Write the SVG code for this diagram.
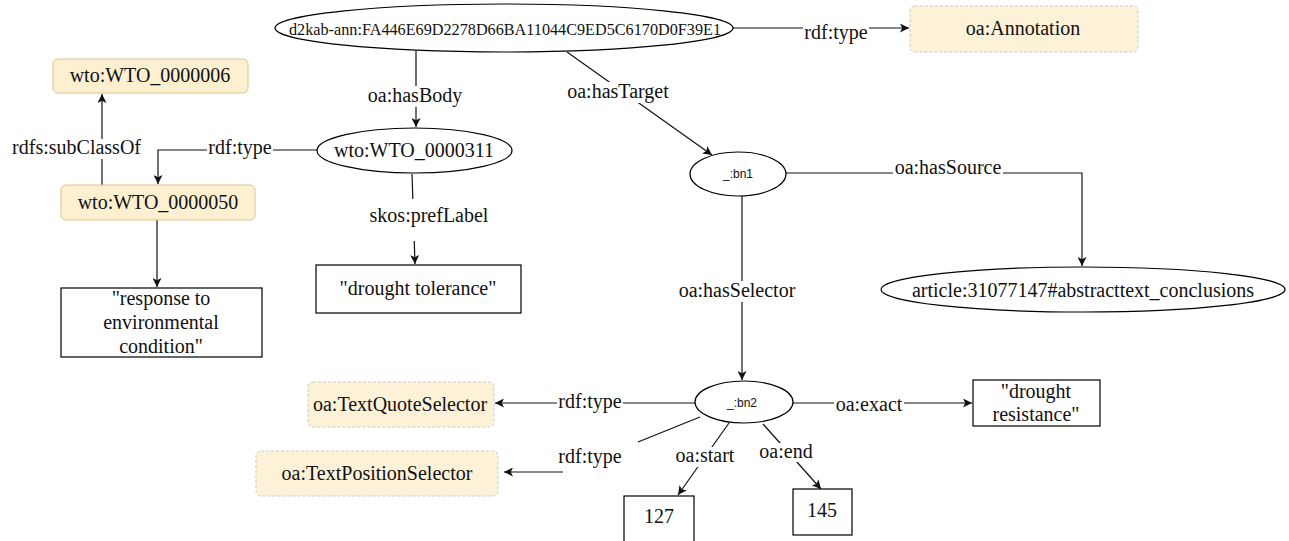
<svg xmlns="http://www.w3.org/2000/svg" width="1289" height="541" viewBox="0 0 1289 541">
<style>
  .bg { fill: #ffffff; }
  .ell { fill: #ffffff; stroke: #000000; stroke-width: 1.2; }
  .lit { fill: #ffffff; stroke: #000000; stroke-width: 1.2; }
  .cls { fill: #fdf0d0; stroke: #dcc48c; stroke-width: 1; }
  .oa { fill: #fdf2d8; stroke: #c9c9c9; stroke-width: 1; stroke-dasharray: 3 2; }
  .t { font-family: "Liberation Serif", "Times New Roman", serif; font-size: 20px; fill: #111111; text-anchor: middle; }
  .s { font-family: "Liberation Sans", Arial, sans-serif; font-size: 12px; fill: #111111; text-anchor: middle; }
  .e { fill: none; stroke: #111111; stroke-width: 1.2; }
  .lb { fill: #ffffff; stroke: none; }
</style>
<defs>
  <marker id="arr" viewBox="0 0 10 10" refX="10" refY="5" markerWidth="10" markerHeight="9" markerUnits="userSpaceOnUse" orient="auto">
    <path d="M0,0 L10,5 L0,10 L2.5,5 z" fill="#111111"/>
  </marker>
</defs>
<rect class="bg" x="0" y="0" width="1289" height="541"/>

<g id="connectors">
  <path class="e" d="M733,28 H909" marker-end="url(#arr)"/>
  <path class="e" d="M416,51 V127" marker-end="url(#arr)"/>
  <path class="e" d="M567,52 L712,155" marker-end="url(#arr)"/>
  <path class="e" d="M317,150 H158 V184" marker-end="url(#arr)"/>
  <path class="e" d="M102,185 V94" marker-end="url(#arr)"/>
  <path class="e" d="M157,220 V287" marker-end="url(#arr)"/>
  <path class="e" d="M412,174 L415,264" marker-end="url(#arr)"/>
  <path class="e" d="M786,173 H1082 V266" marker-end="url(#arr)"/>
  <path class="e" d="M742,196 V380" marker-end="url(#arr)"/>
  <path class="e" d="M793,403 H972" marker-end="url(#arr)"/>
  <path class="e" d="M695,403 H495" marker-end="url(#arr)"/>
  <path class="e" d="M700,417 L638,442 M563,472 L504,472" marker-end="url(#arr)"/>
  <path class="e" d="M729,423 L678,495" marker-end="url(#arr)"/>
  <path class="e" d="M763,424 L821,489" marker-end="url(#arr)"/>

  <g id="edge-labels">
    <rect class="lb" x="803" y="24" width="66" height="20"/>
    <text class="t" x="836" y="39">rdf:type</text>
    <rect class="lb" x="366" y="86" width="98" height="21"/>
    <text class="t" x="415" y="102">oa:hasBody</text>
    <rect class="lb" x="565" y="82" width="106" height="21"/>
    <text class="t" x="618" y="98">oa:hasTarget</text>
    <rect class="lb" x="207" y="139" width="66" height="20"/>
    <text class="t" x="240" y="154">rdf:type</text>
    <rect class="lb" x="8" y="139" width="134" height="20"/>
    <text class="t" x="141" y="154" style="text-anchor:end">rdfs:subClassOf</text>
    <rect class="lb" x="368" y="199" width="122" height="42"/>
    <text class="t" x="429" y="222">skos:prefLabel</text>
    <rect class="lb" x="893" y="158" width="110" height="20"/>
    <text class="t" x="948" y="174">oa:hasSource</text>
    <rect class="lb" x="677" y="281" width="120" height="21"/>
    <text class="t" x="737" y="297">oa:hasSelector</text>
    <rect class="lb" x="834" y="396" width="70" height="19"/>
    <text class="t" x="869" y="411">oa:exact</text>
    <rect class="lb" x="557" y="393" width="66" height="20"/>
    <text class="t" x="590" y="408">rdf:type</text>
    <text class="t" x="590" y="463">rdf:type</text>
    <rect class="lb" x="674" y="447" width="62" height="20"/>
    <text class="t" x="705" y="462">oa:start</text>
    <rect class="lb" x="758" y="443" width="56" height="19"/>
    <text class="t" x="786" y="458">oa:end</text>
  </g>
</g>

<g id="node-annotation">
  <ellipse class="ell" cx="504" cy="28" rx="229" ry="24"/>
  <text class="t" x="505" y="35" style="font-size:17px" textLength="432" lengthAdjust="spacingAndGlyphs">d2kab-ann:FA446E69D2278D66BA11044C9ED5C6170D0F39E1</text>
</g>
<g id="node-oa-annotation">
  <rect class="oa" x="910" y="6" width="228" height="46" rx="5"/>
  <text class="t" x="1023" y="35">oa:Annotation</text>
</g>
<g id="node-wto6">
  <rect class="cls" x="53" y="59" width="195" height="34" rx="5"/>
  <text class="t" x="150" y="82">wto:WTO_0000006</text>
</g>
<g id="node-wto50">
  <rect class="cls" x="61" y="185" width="194" height="35" rx="5"/>
  <text class="t" x="158" y="209">wto:WTO_0000050</text>
</g>
<g id="node-wto311">
  <ellipse class="ell" cx="414.5" cy="150.5" rx="97.5" ry="22.5"/>
  <text class="t" x="414" y="157">wto:WTO_0000311</text>
</g>
<g id="node-drought-tolerance">
  <rect class="lit" x="316" y="265" width="205" height="48"/>
  <text class="t" x="418" y="295">"drought tolerance"</text>
</g>
<g id="node-response">
  <rect class="lit" x="61" y="288" width="201" height="69"/>
  <text class="t" x="161" y="305">"response to</text>
  <text class="t" x="161" y="329">environmental</text>
  <text class="t" x="161" y="353">condition"</text>
</g>
<g id="node-bn1">
  <ellipse class="ell" cx="738" cy="174" rx="48" ry="22"/>
  <text class="s" x="738" y="178">_:bn1</text>
</g>
<g id="node-article">
  <ellipse class="ell" cx="1083" cy="289.5" rx="202" ry="22.5"/>
  <text class="t" x="1083" y="297">article:31077147#abstracttext_conclusions</text>
</g>
<g id="node-bn2">
  <ellipse class="ell" cx="744" cy="402" rx="49" ry="21"/>
  <text class="s" x="742" y="407">_:bn2</text>
</g>
<g id="node-drought-resistance">
  <rect class="lit" x="973" y="380" width="127" height="46"/>
  <text class="t" x="1036" y="398">"drought</text>
  <text class="t" x="1036" y="421">resistance"</text>
</g>
<g id="node-textquote">
  <rect class="oa" x="308" y="382" width="186" height="45" rx="5"/>
  <text class="t" x="400" y="411">oa:TextQuoteSelector</text>
</g>
<g id="node-textposition">
  <rect class="oa" x="256" y="451" width="242" height="45" rx="5"/>
  <text class="t" x="377" y="480">oa:TextPositionSelector</text>
</g>
<g id="node-127">
  <rect class="lit" x="624" y="496" width="70" height="52"/>
  <text class="t" x="659" y="523">127</text>
</g>
<g id="node-145">
  <rect class="lit" x="793" y="489" width="59" height="46"/>
  <text class="t" x="822" y="517">145</text>
</g>
</svg>
